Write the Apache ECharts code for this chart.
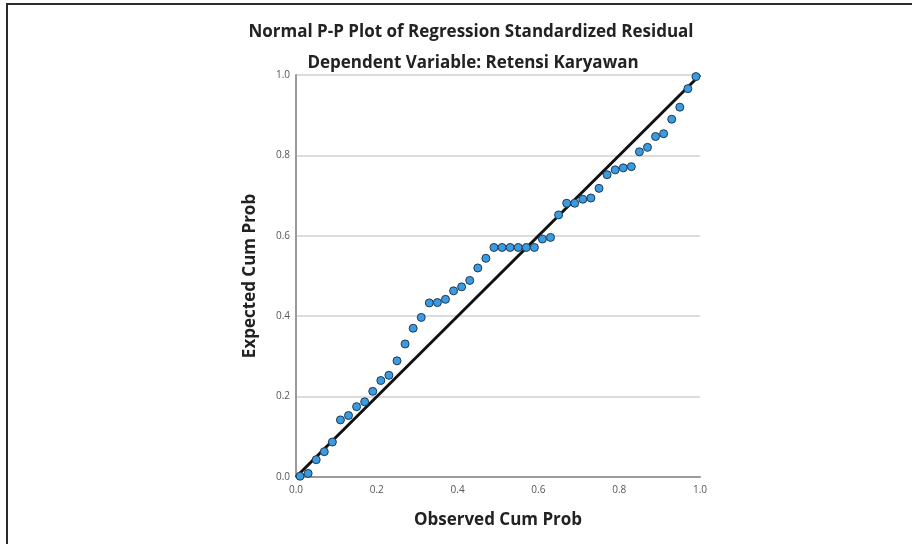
<!DOCTYPE html>
<html lang="en" style="height: 100%">
<head>
    <meta charset="UTF-8">
    <title>Normal P-P Plot</title>
    <script src="https://cdn.jsdelivr.net/npm/echarts@6/dist/echarts.min.js"></script>
</head>
<body style="height: 100%; margin: 0; background: #fff">
<div id="main" style="width: 912px; height: 544px"></div>
<script>
    // observed cumulative probability (x) and expected cumulative probability (y)
    var observedCum = [0.01, 0.03, 0.05, 0.07, 0.09, 0.11, 0.13, 0.15, 0.17, 0.19,
        0.21, 0.23, 0.25, 0.27, 0.29, 0.31, 0.33, 0.35, 0.37, 0.39,
        0.41, 0.43, 0.45, 0.47, 0.49, 0.51, 0.53, 0.55, 0.57, 0.59,
        0.61, 0.63, 0.65, 0.67, 0.69, 0.71, 0.73, 0.75, 0.77, 0.79,
        0.81, 0.83, 0.85, 0.87, 0.89, 0.91, 0.93, 0.95, 0.97, 0.99];
    var expectedCum = [0.002, 0.009, 0.043, 0.063, 0.087, 0.142, 0.153, 0.175, 0.187, 0.213,
        0.240, 0.253, 0.289, 0.331, 0.370, 0.397, 0.433, 0.434, 0.442, 0.463,
        0.473, 0.489, 0.520, 0.544, 0.571, 0.571, 0.571, 0.571, 0.571, 0.571,
        0.592, 0.596, 0.652, 0.681, 0.681, 0.691, 0.694, 0.718, 0.752, 0.764,
        0.769, 0.772, 0.809, 0.820, 0.847, 0.854, 0.890, 0.920, 0.966, 0.996];
    var refLine = [[0, 0], [1, 1]];
    var tickLabels = ['0.0', '0.2', '0.4', '0.6', '0.8', '1.0'];

    var points = observedCum.map(function (x, i) { return [x, expectedCum[i]]; });
    var fmt = function (v) { return tickLabels[Math.round(v / 0.2)]; };
    var font = "'Open Sans', 'DejaVu Sans', sans-serif";

    var option = {
        backgroundColor: '#fff',
        animation: false,
        title: [
            {
                text: 'Normal P-P Plot of Regression Standardized Residual',
                left: 466, top: 19, textAlign: 'center',
                textStyle: {fontFamily: font, fontSize: 17, fontWeight: 'bold', color: '#222'}
            },
            {
                text: 'Dependent Variable: Retensi Karyawan',
                left: 468, top: 50, textAlign: 'center',
                textStyle: {fontFamily: font, fontSize: 17, fontWeight: 'bold', color: '#222'}
            }
        ],
        graphic: [
            {
                type: 'polyline',
                shape: {points: [[7, 544], [7, 4], [912, 4]]},
                style: {stroke: '#2b2b2b', lineWidth: 2, fill: null}
            }
        ],
        grid: {left: 296, right: 212, top: 75, bottom: 67},
        xAxis: {
            type: 'value', min: 0, max: 1, interval: 0.2,
            name: 'Observed Cum Prob', nameLocation: 'middle', nameGap: 35,
            nameTextStyle: {fontFamily: font, fontSize: 17, fontWeight: 'bold', color: '#222'},
            axisLine: {lineStyle: {color: '#9a9a9a', width: 2}},
            axisTick: {show: false},
            axisLabel: {formatter: fmt, fontFamily: font, fontSize: 10, color: '#555', margin: 8},
            splitLine: {show: false}
        },
        yAxis: {
            type: 'value', min: 0, max: 1, interval: 0.2,
            name: 'Expected Cum Prob', nameLocation: 'middle', nameGap: 37,
            nameTextStyle: {fontFamily: font, fontSize: 17, fontWeight: 'bold', color: '#222'},
            axisLine: {show: true, lineStyle: {color: '#9a9a9a', width: 2}},
            axisTick: {show: false},
            axisLabel: {formatter: fmt, fontFamily: font, fontSize: 10, color: '#555', margin: 6},
            splitLine: {lineStyle: {color: '#dcdcdc', width: 2}}
        },
        series: [
            {
                name: 'reference',
                type: 'line',
                data: refLine,
                symbol: 'none',
                lineStyle: {color: '#111', width: 3},
                z: 2
            },
            {
                name: 'residual',
                type: 'scatter',
                data: points,
                symbol: 'circle',
                symbolSize: 8,
                itemStyle: {color: '#3a9be0', borderColor: '#1d3a55', borderWidth: 1, opacity: 1},
                z: 3
            }
        ]
    };
    var myChart = echarts.init(document.getElementById('main'));
    myChart.setOption(option);
</script>
</body>
</html>
